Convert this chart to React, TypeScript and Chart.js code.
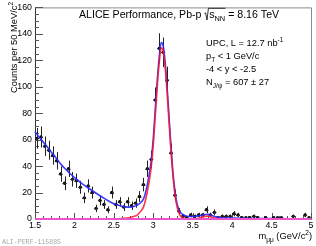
import React, { useEffect, useRef } from 'react';
import { Chart, registerables } from 'chart.js';

Chart.register(...registerables);

// ---- data ----
const massBins = [
  1.525, 1.575, 1.625, 1.675, 1.725, 1.775, 1.825, 1.875, 1.925, 1.975,
  2.025, 2.075, 2.125, 2.175, 2.225, 2.275, 2.325, 2.375, 2.425, 2.475,
  2.525, 2.575, 2.625, 2.675, 2.725, 2.775, 2.825, 2.875, 2.925, 2.975,
  3.025, 3.075, 3.125, 3.175, 3.225, 3.275, 3.325, 3.375, 3.425, 3.475,
  3.525, 3.575, 3.625, 3.675, 3.725, 3.775, 3.825, 3.875, 3.925, 3.975,
  4.025, 4.075, 4.125, 4.175, 4.225, 4.275, 4.325, 4.375, 4.425, 4.475,
  4.525, 4.575, 4.625, 4.675, 4.725, 4.775, 4.825, 4.875, 4.925, 4.975,
];
const counts = [
  61, 62, 55, 52, 48, 44, 34, 27, 38, 30,
  29, 24, 16, 25, 20, 8, 14, 11, 7, 20,
  11, 13, 9, 13, 10, 12, 17, 26, 38, 45,
  90, 129, 126, 105, 50, 18, 6, 2, 1, 3,
  2, 3, 3, 7, 3, 5, 1, 2, 2, 2,
  4, 3, 1, 1, 1, 2, 1, 0, 1, 0,
  1, 1, 1, 0, 0, 2, 0, 0, 3, 1,
];
const countErrors = [
  7.8, 7.9, 7.4, 7.2, 6.9, 6.6, 5.8, 5.2, 6.2, 5.5,
  5.4, 4.9, 4.0, 5.0, 4.5, 2.8, 3.7, 3.3, 2.6, 4.5,
  3.3, 3.6, 3.0, 3.6, 3.2, 3.5, 4.1, 5.1, 6.2, 6.7,
  9.5, 11.4, 11.2, 10.2, 7.1, 4.2, 2.4, 1.4, 1.0, 1.7,
  1.4, 1.7, 1.7, 2.6, 1.7, 2.2, 1.0, 1.4, 1.4, 1.4,
  2.0, 1.7, 1.0, 1.0, 1.0, 1.4, 1.0, 0, 1.0, 0,
  1.0, 1.0, 1.0, 0, 0, 1.4, 0, 0, 1.7, 1.0,
];

// total fit (blue)
const fitTotalMass = [
  1.5, 1.55, 1.6, 1.65, 1.7, 1.75, 1.8, 1.85, 1.9, 1.95,
  2.0, 2.1, 2.2, 2.3, 2.4, 2.5, 2.6, 2.65, 2.7, 2.75,
  2.8, 2.85, 2.875, 2.9, 2.925, 2.95, 2.975, 3.0, 3.025, 3.05,
  3.075, 3.1, 3.125, 3.15, 3.175, 3.2, 3.225, 3.25, 3.275, 3.3,
  3.325, 3.35, 3.4, 3.45, 3.5, 3.55, 3.6, 3.65, 3.7, 3.75,
  3.8, 3.85, 3.9, 4.0, 4.25, 4.5, 4.75, 5.0,
];
const fitTotalCounts = [
  66, 62, 58.5, 55, 51, 47.5, 43.5, 40, 37, 34,
  31.5, 26.5, 22.5, 18.5, 14.8, 11.5, 9.8, 9.2, 9, 9.4,
  10.5, 13, 15, 19.5, 26, 34.5, 45, 61, 83, 104.5,
  122.5, 133.5, 131, 119, 100, 77, 54.5, 35, 21, 12,
  7, 4.5, 2.6, 1.9, 1.9, 2.2, 2.6, 3.4, 3.5, 2.5,
  1.4, 1, 0.8, 0.7, 0.4, 0.25, 0.15, 0.1,
];

// J/psi signal (red)
const jpsiMass = [
  1.5, 2.4, 2.5, 2.6, 2.7, 2.75, 2.8, 2.85, 2.875, 2.9,
  2.925, 2.95, 2.975, 3.0, 3.025, 3.05, 3.075, 3.1, 3.125, 3.15,
  3.175, 3.2, 3.225, 3.25, 3.275, 3.3, 3.325, 3.35, 3.4, 3.45,
  3.55, 3.6, 3.65, 3.7, 3.75, 3.8, 3.85, 5.0,
];
const jpsiCounts = [
  0, 0, 0.1, 0.4, 1, 1.8, 3.2, 6.5, 9, 14,
  21, 29, 40, 56, 78, 100, 118, 129.5, 127, 115,
  96, 73, 51, 32, 18.5, 9.5, 4.5, 2, 0.3, 0,
  0.3, 1, 2, 2.2, 1.2, 0.3, 0, 0,
];

// zero line (magenta)
const baselineMass = [1.5, 5];
const baselineCounts = [0, 0];

const xTicks = [1.5, 2, 2.5, 3, 3.5, 4, 4.5, 5];
const xTickLabels = ['1.5', '2', '2.5', '3', '3.5', '4', '4.5', '5'];
const yTicks = [0, 20, 40, 60, 80, 100, 120, 140, 160];
const yTickLabels = ['0', '20', '40', '60', '80', '100', '120', '140', '160'];

const FONT = '"Liberation Sans", Arial, Helvetica, sans-serif';

type Seg = { t: string; k?: 'sub' | 'sup' };

function segFont(size: number, k?: string) {
  return `${k ? size * 0.7 : size}px ${FONT}`;
}
function richWidth(ctx: CanvasRenderingContext2D, segs: Seg[], size: number) {
  let w = 0;
  for (const s of segs) {
    ctx.font = segFont(size, s.k);
    w += ctx.measureText(s.t).width;
  }
  return w;
}
function drawRich(ctx: CanvasRenderingContext2D, segs: Seg[], x: number, y: number, size: number) {
  let cx = x;
  for (const s of segs) {
    ctx.font = segFont(size, s.k);
    const dy = s.k === 'sub' ? size * 0.3 : s.k === 'sup' ? -size * 0.42 : 0;
    ctx.fillText(s.t, cx, y + dy);
    cx += ctx.measureText(s.t).width;
  }
  return cx;
}

const decorPlugin = {
  id: 'decor',
  beforeDatasetsDraw(chart: any) {
    const ctx: CanvasRenderingContext2D = chart.ctx;
    const { left, right, top, bottom } = chart.chartArea;
    const xs = chart.scales.x;
    const ys = chart.scales.y;
    ctx.save();
    ctx.lineWidth = 1;
    ctx.strokeStyle = '#8a8a8a';
    ctx.beginPath();
    ctx.moveTo(left, top + 0.5);
    ctx.lineTo(right + 0.5, top + 0.5);
    ctx.lineTo(right + 0.5, bottom);
    ctx.stroke();
    ctx.strokeStyle = '#333';
    ctx.beginPath();
    ctx.moveTo(left + 0.5, top);
    ctx.lineTo(left + 0.5, bottom + 0.5);
    ctx.lineTo(right + 0.5, bottom + 0.5);
    ctx.stroke();
    ctx.strokeStyle = '#555';
    ctx.beginPath();
    for (let v = 0; v <= 160; v += 5) {
      const py = Math.round(ys.getPixelForValue(v)) + 0.5;
      const len = v % 20 === 0 ? 8 : 4;
      ctx.moveTo(left, py);
      ctx.lineTo(left + len, py);
    }
    for (let i = 0; i <= 35; i++) {
      const v = 1.5 + i * 0.1;
      const px = Math.round(xs.getPixelForValue(v)) + 0.5;
      const len = i % 5 === 0 ? 6 : 3;
      ctx.moveTo(px, bottom);
      ctx.lineTo(px, bottom - len);
    }
    ctx.stroke();
    ctx.restore();
  },
  afterDatasetDraw(chart: any, args: any) {
    if (args.index !== 0) return;
    const ctx: CanvasRenderingContext2D = chart.ctx;
    const xs = chart.scales.x;
    const ys = chart.scales.y;
    ctx.save();
    ctx.strokeStyle = '#222';
    ctx.lineWidth = 1;
    ctx.beginPath();
    for (let i = 0; i < massBins.length; i++) {
      if (counts[i] <= 0) continue;
      const px = Math.round(xs.getPixelForValue(massBins[i])) + 0.5;
      const py = ys.getPixelForValue(counts[i]);
      const e = countErrors[i];
      const y1 = ys.getPixelForValue(counts[i] + e);
      const y2 = ys.getPixelForValue(counts[i] - e);
      ctx.moveTo(px, y1);
      ctx.lineTo(px, y2);
      const x1 = xs.getPixelForValue(massBins[i] - 0.025);
      const x2 = xs.getPixelForValue(massBins[i] + 0.025);
      const pyr = Math.round(py) + 0.5;
      ctx.moveTo(x1, pyr);
      ctx.lineTo(x2, pyr);
    }
    ctx.stroke();
    ctx.restore();
  },
  afterDraw(chart: any) {
    const ctx: CanvasRenderingContext2D = chart.ctx;
    ctx.save();
    ctx.fillStyle = '#000';
    ctx.textBaseline = 'alphabetic';
    ctx.textAlign = 'left';

    // title
    const ts = 10.6;
    let x = drawRich(ctx, [{ t: 'ALICE Performance, Pb-p ' }], 79, 17.5, ts);
    const rad = [{ t: 's' }, { t: 'NN', k: 'sub' as const }];
    const rw = richWidth(ctx, rad, ts);
    ctx.strokeStyle = '#000';
    ctx.lineWidth = 0.8;
    ctx.beginPath();
    ctx.moveTo(x, 13.5);
    ctx.lineTo(x + 1.2, 12.8);
    ctx.lineTo(x + 2.6, 20);
    ctx.lineTo(x + 4, 8.3);
    ctx.lineTo(x + 5 + rw, 8.3);
    ctx.stroke();
    x = drawRich(ctx, rad, x + 4.8, 17.5, ts);
    drawRich(ctx, [{ t: ' = 8.16 TeV' }], x, 17.5, ts);

    // info block
    const size = 9.3;
    drawRich(ctx, [{ t: 'UPC, L = 12.7 nb' }, { t: '-1', k: 'sup' }], 206, 46, size);
    drawRich(ctx, [{ t: 'p' }, { t: 'T', k: 'sub' }, { t: ' < 1 GeV/c' }], 206, 59, size);
    drawRich(ctx, [{ t: '-4 < y < -2.5' }], 206, 72, size);
    drawRich(ctx, [{ t: 'N' }, { t: 'J/\u03C8', k: 'sub' }, { t: ' = 607 \u00B1 27' }], 206, 85, size);

    // x title
    const xt: Seg[] = [{ t: 'm' }, { t: '\u03BC\u03BC', k: 'sub' }, { t: ' (GeV/c' }, { t: '2', k: 'sup' }, { t: ')' }];
    const xw = richWidth(ctx, xt, size);
    drawRich(ctx, xt, 312 - xw, 239, size);

    // y title
    const yt: Seg[] = [{ t: 'Counts per 50 MeV/c' }, { t: '2', k: 'sup' }];
    const yw = richWidth(ctx, yt, size);
    ctx.save();
    ctx.translate(17, 2);
    ctx.rotate(-Math.PI / 2);
    drawRich(ctx, yt, -yw, 0, size);
    ctx.restore();

    // figure id
    ctx.fillStyle = '#a8a8a8';
    ctx.font = '7.5px "Liberation Mono", "DejaVu Sans Mono", monospace';
    ctx.fillText('ALI-PERF-115885', 2, 244, 59);
    ctx.restore();
  },
};

export default function App() {
  const ref = useRef<HTMLCanvasElement | null>(null);
  useEffect(() => {
    if (!ref.current) return;
    const chart = new Chart(ref.current, {
      type: 'scatter',
      data: {
        datasets: [
          {
            label: 'data',
            data: massBins.map((m, i) => ({ x: m, y: counts[i] })),
            showLine: false,
            pointRadius: (c: any) => (counts[c.dataIndex] > 0 ? 1.7 : 0),
            pointBackgroundColor: '#000',
            pointBorderWidth: 0,
            order: 3,
            clip: 4,
          } as any,
          {
            label: 'total',
            data: fitTotalMass.map((m, i) => ({ x: m, y: fitTotalCounts[i] })),
            showLine: true,
            borderColor: 'rgba(40,40,255,0.9)',
            borderWidth: 1.6,
            pointRadius: 0,
            cubicInterpolationMode: 'monotone',
            order: 2,
            clip: 4,
          } as any,
          {
            label: 'jpsi',
            data: jpsiMass.map((m, i) => ({ x: m, y: jpsiCounts[i] })),
            showLine: true,
            borderColor: 'rgba(255,20,40,0.85)',
            borderWidth: 1.6,
            pointRadius: 0,
            cubicInterpolationMode: 'monotone',
            order: 1,
            clip: 4,
          } as any,
          {
            label: 'zero',
            data: baselineMass.map((m, i) => ({ x: m, y: baselineCounts[i] })),
            showLine: true,
            borderColor: '#ee55cc',
            borderWidth: 2,
            pointRadius: 0,
            order: 0,
            clip: 4,
          } as any,
        ],
      },
      options: {
        animation: false,
        responsive: false,
        devicePixelRatio: 1,
        layout: { padding: { top: 5, right: 5, left: 0, bottom: 0 } },
        plugins: { legend: { display: false }, tooltip: { enabled: false } },
        scales: {
          x: {
            type: 'linear',
            min: 1.5,
            max: 5,
            afterFit: (s: any) => { s.height = 27; },
            afterBuildTicks: (s: any) => { s.ticks = xTicks.map((v) => ({ value: v })); },
            ticks: {
              autoSkip: false,
              maxRotation: 0,
              padding: 2,
              color: '#000',
              font: { size: 8.8, family: FONT, lineHeight: 1 },
              callback: (v: any) => xTickLabels[xTicks.indexOf(Number(v))] ?? '',
            },
            grid: { display: false, drawTicks: false },
            border: { display: false },
          },
          y: {
            type: 'linear',
            min: 0,
            max: 160,
            afterFit: (s: any) => { s.width = 35; },
            afterBuildTicks: (s: any) => { s.ticks = yTicks.map((v) => ({ value: v })); },
            ticks: {
              autoSkip: false,
              padding: 3,
              color: '#000',
              font: { size: 8.8, family: FONT, lineHeight: 1 },
              callback: (v: any) => yTickLabels[yTicks.indexOf(Number(v))] ?? '',
            },
            grid: { display: false, drawTicks: false },
            border: { display: false },
          },
        },
      } as any,
      plugins: [decorPlugin],
    });
    return () => chart.destroy();
  }, []);
  return (
    <div style={{ position: 'absolute', left: 0, top: 0, width: 316, height: 246, background: '#fff' }}>
      <canvas ref={ref} width={316} height={246} style={{ display: 'block', width: 316, height: 246 }} />
    </div>
  );
}
